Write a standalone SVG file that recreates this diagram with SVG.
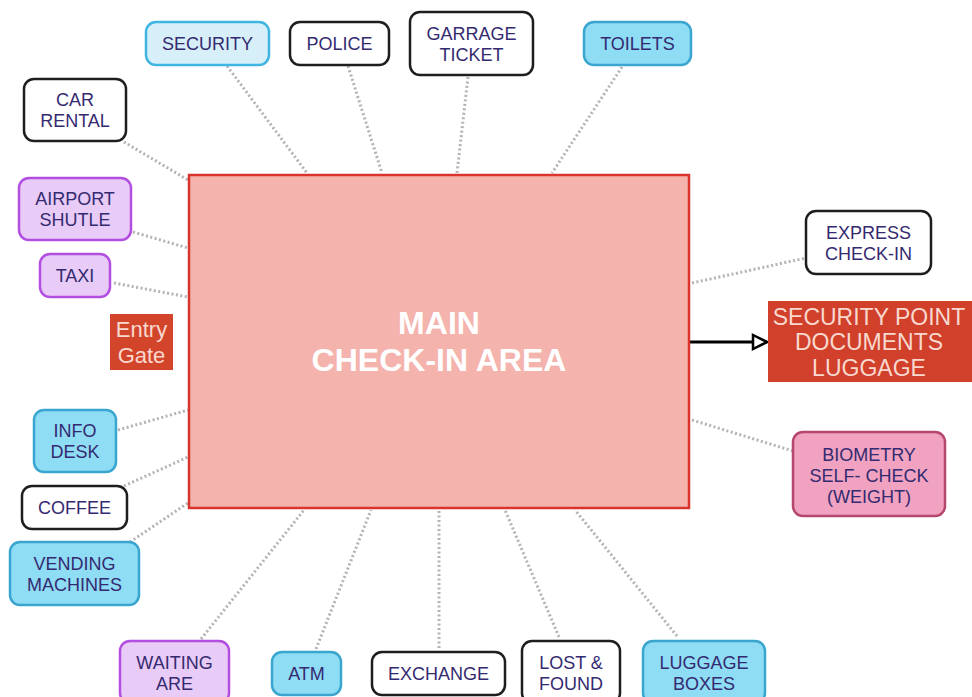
<svg xmlns="http://www.w3.org/2000/svg" width="972" height="697" viewBox="0 0 972 697">
  <defs>
    <style>
      .node rect { stroke-width: 2.5; }
      .white rect { fill: #ffffff; stroke: #1e1e1e; }
      .blue rect { fill: #8fdcf5; stroke: #3aa6cf; }
      .pale rect { fill: #d6eff9; stroke: #41b5e2; }
      .purple rect { fill: #e8cbf7; stroke: #b24fe0; }
      .pink rect { fill: #f0a2c0; stroke: #b5466c; }
      .node text { font-family: "Liberation Sans", Arial, sans-serif; font-size: 18px; fill: #342a70; text-anchor: middle; }
      .link { stroke: #b3b3b3; stroke-width: 3; stroke-dasharray: 2 2.5; fill: none; }
      .red text { font-family: "Liberation Sans", Arial, sans-serif; fill: #f9d8cf; text-anchor: middle; }
    </style>
    <marker id="hollow" markerWidth="18" markerHeight="18" refX="16" refY="9" orient="auto" markerUnits="userSpaceOnUse">
      <path d="M2,2 L16,9 L2,16 Z" fill="#ffffff" stroke="#000000" stroke-width="2.5"/>
    </marker>
  </defs>

  <rect width="972" height="697" fill="#ffffff"/>

  <!-- dotted links from each service to the check-in hall, plus the exit arrow -->
  <g id="connectors">
    <line class="link" x1="227" y1="66" x2="307" y2="173"/>
    <line class="link" x1="348" y1="66" x2="382" y2="173"/>
    <line class="link" x1="468" y1="77" x2="457" y2="173"/>
    <line class="link" x1="622" y1="67" x2="552" y2="173"/>
    <line class="link" x1="124" y1="142" x2="188" y2="180"/>
    <line class="link" x1="133" y1="232" x2="188" y2="248"/>
    <line class="link" x1="114" y1="283" x2="188" y2="297"/>
    <line class="link" x1="118" y1="430" x2="188" y2="410"/>
    <line class="link" x1="124" y1="486" x2="188" y2="457"/>
    <line class="link" x1="130" y1="542" x2="188" y2="503"/>
    <line class="link" x1="201" y1="639" x2="304" y2="510"/>
    <line class="link" x1="316" y1="649" x2="371" y2="510"/>
    <line class="link" x1="439" y1="648" x2="439" y2="510"/>
    <line class="link" x1="559" y1="637" x2="505" y2="510"/>
    <line class="link" x1="677" y1="636" x2="575" y2="510"/>
    <line class="link" x1="692" y1="283" x2="806" y2="258"/>
    <line class="link" x1="692" y1="420" x2="793" y2="451"/>
    <line x1="690" y1="342" x2="767" y2="342" stroke="#000000" stroke-width="3" marker-end="url(#hollow)"/>
  </g>

  <!-- central hall -->
  <g id="main">
    <rect x="189" y="175" width="500" height="333" fill="#f4b3ad" stroke="#d8352f" stroke-width="2.5"/>
    <text x="439" y="334" font-family="Liberation Sans, Arial, sans-serif" font-size="32" font-weight="bold" fill="#ffffff" text-anchor="middle">MAIN</text>
    <text x="439" y="371" font-family="Liberation Sans, Arial, sans-serif" font-size="32" font-weight="bold" fill="#ffffff" text-anchor="middle">CHECK-IN AREA</text>
  </g>

  <g id="security" class="node pale">
    <rect x="146" y="22" width="123" height="43" rx="10"/>
    <text x="207.5" y="50">SECURITY</text>
  </g>
  <g id="police" class="node white">
    <rect x="290" y="22" width="99" height="43" rx="10"/>
    <text x="339.5" y="50">POLICE</text>
  </g>
  <g id="garrage-ticket" class="node white">
    <rect x="410" y="12" width="123" height="63" rx="10"/>
    <text x="471.5" y="40">GARRAGE</text>
    <text x="471.5" y="61">TICKET</text>
  </g>
  <g id="toilets" class="node blue">
    <rect x="584" y="22" width="107" height="43" rx="10"/>
    <text x="637.5" y="50">TOILETS</text>
  </g>
  <g id="car-rental" class="node white">
    <rect x="24" y="79" width="102" height="62" rx="10"/>
    <text x="75" y="106">CAR</text>
    <text x="75" y="127">RENTAL</text>
  </g>
  <g id="airport-shutle" class="node purple">
    <rect x="19" y="178" width="112" height="62" rx="10"/>
    <text x="75" y="205">AIRPORT</text>
    <text x="75" y="226">SHUTLE</text>
  </g>
  <g id="taxi" class="node purple">
    <rect x="40" y="254" width="70" height="43" rx="10"/>
    <text x="75" y="282">TAXI</text>
  </g>
  <g id="entry-gate" class="red">
    <rect x="110" y="314" width="63" height="56" fill="#d2452b"/>
    <text x="141.5" y="337" font-size="22">Entry</text>
    <text x="141.5" y="363" font-size="22">Gate</text>
  </g>
  <g id="info-desk" class="node blue">
    <rect x="34" y="410" width="82" height="62" rx="10"/>
    <text x="75" y="437">INFO</text>
    <text x="75" y="458">DESK</text>
  </g>
  <g id="coffee" class="node white">
    <rect x="22" y="486" width="105" height="43" rx="10"/>
    <text x="74.5" y="514">COFFEE</text>
  </g>
  <g id="vending-machines" class="node blue">
    <rect x="10" y="542" width="129" height="63" rx="10"/>
    <text x="74.5" y="570">VENDING</text>
    <text x="74.5" y="591">MACHINES</text>
  </g>
  <g id="waiting-are" class="node purple">
    <rect x="120" y="641" width="109" height="62" rx="10"/>
    <text x="174.5" y="669">WAITING</text>
    <text x="174.5" y="690">ARE</text>
  </g>
  <g id="atm" class="node blue">
    <rect x="272" y="652" width="69" height="43" rx="10"/>
    <text x="306.5" y="680">ATM</text>
  </g>
  <g id="exchange" class="node white">
    <rect x="372" y="652" width="133" height="43" rx="10"/>
    <text x="438.5" y="680">EXCHANGE</text>
  </g>
  <g id="lost-found" class="node white">
    <rect x="522" y="641" width="98" height="62" rx="10"/>
    <text x="571" y="669">LOST &amp;</text>
    <text x="571" y="690">FOUND</text>
  </g>
  <g id="luggage-boxes" class="node blue">
    <rect x="643" y="641" width="122" height="62" rx="10"/>
    <text x="704" y="669">LUGGAGE</text>
    <text x="704" y="690">BOXES</text>
  </g>
  <g id="express-check-in" class="node white">
    <rect x="806" y="211" width="125" height="63" rx="10"/>
    <text x="868.5" y="239">EXPRESS</text>
    <text x="868.5" y="260">CHECK-IN</text>
  </g>
  <g id="security-point" class="red">
    <rect x="768" y="301" width="204" height="81" fill="#d0402a"/>
    <text x="869" y="325" font-size="23">SECURITY POINT</text>
    <text x="869" y="350" font-size="23">DOCUMENTS</text>
    <text x="869" y="376" font-size="23">LUGGAGE</text>
  </g>
  <g id="biometry" class="node pink">
    <rect x="793" y="432" width="152" height="84" rx="10"/>
    <text x="869" y="461">BIOMETRY</text>
    <text x="869" y="482">SELF- CHECK</text>
    <text x="869" y="503">(WEIGHT)</text>
  </g>
</svg>
